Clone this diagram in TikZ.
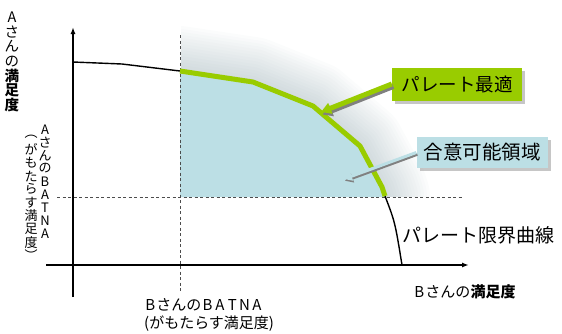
\documentclass[tikz,border=0pt]{standalone}
\usepackage{fontspec}
\setmainfont{Noto Sans CJK JP}
\usetikzlibrary{arrows.meta,shadows}
\definecolor{pgreen}{RGB}{153,204,0}
\definecolor{pblue}{RGB}{188,223,229}
\definecolor{glowc}{RGB}{105,135,145}
\newcommand\myfs[2]{\fontsize{#1}{#2}\selectfont}
\newcommand\lw[1]{\makebox[0.82em]{#1}}
\tikzset{
  axisline/.style={line width=2pt, -{Latex[length=7pt,width=5pt]}},
  dashline/.style={draw=black!70, line width=0.7pt, dash pattern=on 3pt off 2.5pt},
  curveline/.style={line width=1.4pt, line join=round},
  paretoline/.style={pgreen, line width=5pt, line join=round},
  labelbox/.style={inner sep=0pt, minimum width=130pt, minimum height=33pt,
    drop shadow={shadow xshift=3pt, shadow yshift=-3pt, opacity=0.45}},
  plain/.style={inner sep=0pt},
  vchar/.style={inner sep=0pt, anchor=center},
}
\begin{document}
\begin{tikzpicture}[x=1pt,y=-1pt]
\useasboundingbox (0,0) rectangle (562,333);
% key points
\coordinate (p0) at (180,71);
\coordinate (p1) at (253,82);
\coordinate (p2) at (313,106);
\coordinate (p3) at (360,146);
\coordinate (p4) at (382,187);
\coordinate (p5) at (385,196);
% glow
\begin{scope}
  \clip (181,25) rectangle (562,196.5);
  \foreach \w in {6,12,...,90} {
    \draw[glowc, opacity=0.025, line width=\w pt, line join=round, line cap=round]
      (p0)--(p1)--(p2)--(p3)--(p4)--(p5);
  }
\end{scope}
% feasible region
\fill[pblue] (p0)--(p1)--(p2)--(p3)--(p4)--(385,197)--(180,197)--cycle;
% dashed BATNA lines
\coordinate (vd1) at (180,35);
\coordinate (vd2) at (180,292);
\coordinate (hd1) at (57,197);
\coordinate (hd2) at (463,197);
\draw[dashline] (vd1) -- (vd2);
\draw[dashline] (hd1) -- (hd2);
% pareto frontier
\coordinate (c0) at (73,62);
\coordinate (c1) at (122,64);
\coordinate (c6) at (402,265);
\draw[curveline] (c0) -- (c1) -- (p0);
\draw[curveline] (p5) .. controls (395,222) .. (c6);
\draw[paretoline] (p0)--(p1)--(p2)--(p3)--(p4)--(p5);
% axes
\coordinate (yb) at (73,297);
\coordinate (yt) at (73,27);
\coordinate (xl) at (46,265);
\coordinate (xr) at (469,265);
\draw[axisline] (yb) -- (yt);
\draw[axisline] (xl) -- (xr);
% label boxes
\node[labelbox, fill=pgreen, font=\myfs{18.5}{18.5}] (po) at (457,84) {パレート最適};
\node[labelbox, fill=pblue, minimum width=131pt, minimum height=31pt, font=\myfs{19.5}{19.5}] (ga) at (482,152.5) {合意可能領域};
% callout arrows
\coordinate (potip) at (321,112);
\coordinate (gatip) at (344,179);
\draw[black!50, line width=5pt, -{Triangle[width=11pt,length=10pt]}, transform canvas={shift={(1.5,2.5)}}] (po.west) -- (potip);
\draw[pgreen, line width=5pt, -{Triangle[width=11pt,length=10pt]}] (po.west) -- (potip);
\draw[black!50, line width=3pt, -{Triangle[width=9pt,length=8pt]}, transform canvas={shift={(1,1.8)}}] (ga.west) -- (gatip);
\draw[pblue, line width=3pt, -{Triangle[width=9pt,length=8pt]}] (ga.west) -- (gatip);
% vertical axis labels
\foreach \c [count=\i] in {A,さ,ん,の,\textbf{満},\textbf{足},\textbf{度}}
  \node[vchar, font=\myfs{14.5}{14.5}] (ya\i) at (12,{17.3+(\i-1)*14.6}) {\c};
\foreach \c [count=\i] in {A,さ,ん,の,B,A,T,N,A}
  \node[vchar, font=\myfs{13}{13}] (yb\i) at (45,{129.5+(\i-1)*13}) {\c};
\foreach \c [count=\i] in {︵,が,も,た,ら,す,満,足,度,︶}
  \node[vchar, font=\myfs{13}{13}] (yc\i) at (31,{136.5+(\i-1)*13.2}) {\c};
% horizontal labels
\node[plain, anchor=west, font=\myfs{15}{15}] (xb1) at (144,305) {\lw{B}さんの\lw{B}\lw{A}\lw{T}\lw{N}\lw{A}};
\node[plain, anchor=west, font=\myfs{15}{15}] (xb2) at (144,324) {(がもたらす満足度)};
\node[plain, anchor=west, font=\myfs{15}{15}] (xa) at (413,292) {\lw{B}さんの\textbf{満足度}};
\node[plain, anchor=west, font=\myfs{19}{19}] (pl) at (402,235) {パレート限界曲線};
\end{tikzpicture}
\end{document}
